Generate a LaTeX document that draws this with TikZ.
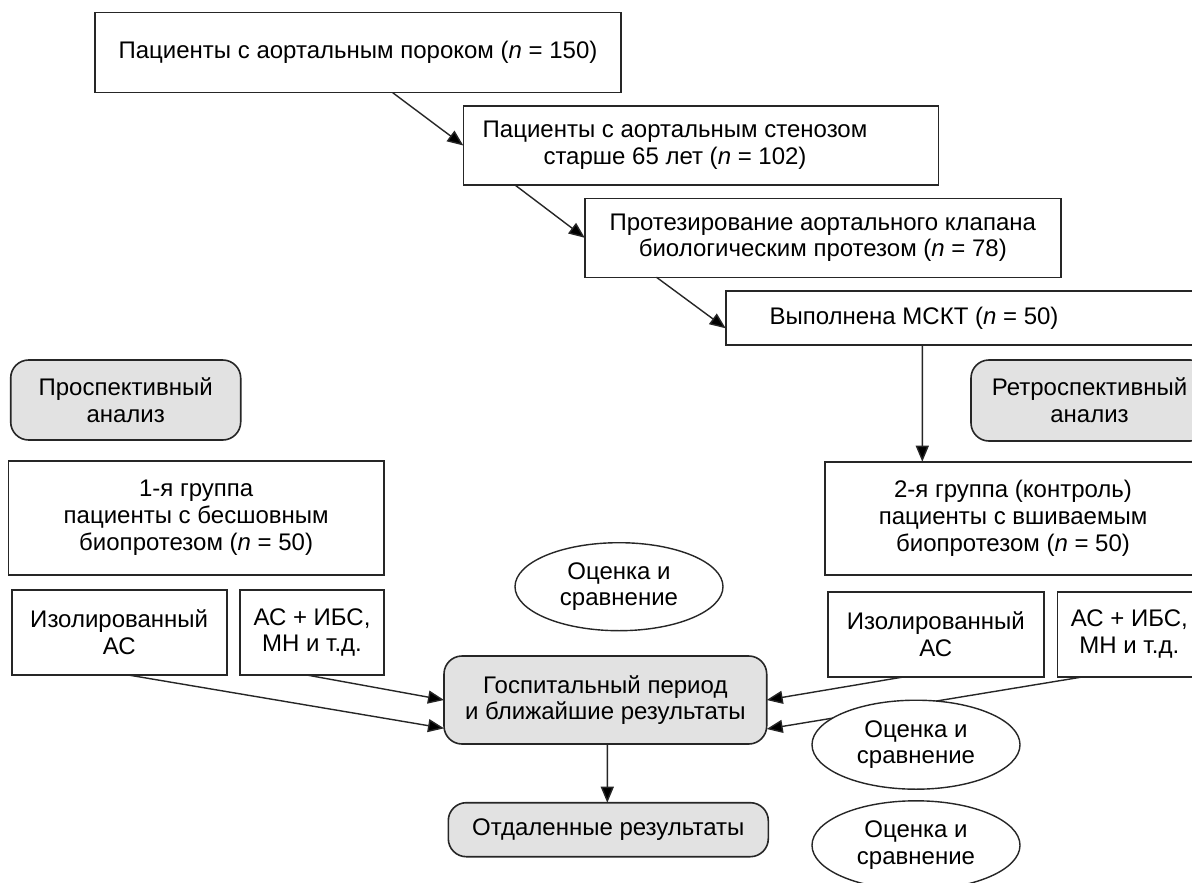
\documentclass[tikz,border=0pt]{standalone}
\usepackage{fontspec}
\setmainfont{Liberation Sans}
\usetikzlibrary{arrows.meta,shapes.geometric,calc}
\definecolor{linec}{HTML}{262626}
\definecolor{boxgray}{HTML}{E2E2E2}
\begin{document}
\begin{tikzpicture}[x=1pt,y=-1pt,
  every node/.style={font=\fontsize{24}{26.7}\selectfont, align=center, inner sep=0pt, outer sep=0pt},
  sz/.style 2 args={minimum width=#1pt, minimum height=#2pt},
  box/.style={draw=linec, line width=1.6pt, fill=white, rectangle},
  rbox/.style={box, fill=boxgray, rounded corners=18pt},
  ell/.style={draw=linec, line width=1.4pt, fill=white, ellipse},
  arr/.style={draw=linec, line width=1.4pt, -{Triangle[length=16pt,width=13pt,fill=black]}},
]
\useasboundingbox (0,0) rectangle (1192,883);
\clip (0,0) rectangle (1192,883);
\fill[white] (0,0) rectangle (1192,883);

% top chain
\node[box, sz={526}{80}] (b1) at (358,52.7) {Пациенты с аортальным пороком (\textit{n} = 150)};
\node[box, sz={475}{79}] (b2) at (700.8,145.5) {};
\node (b2t) at (675,145.5) {Пациенты с аортальным стенозом\\старше 65 лет (\textit{n} = 102)};
\node[box, sz={476}{79}] (b3) at (822.8,237.8) {Протезирование аортального клапана\\биологическим протезом (\textit{n} = 78)};
\node[box, sz={489.3}{54}] (b4) at (970.35,318) {};
\node (b4t) at (914,318) {Выполнена МСКТ (\textit{n} = 50)};

% analysis labels
\node[rbox, sz={230}{80}] (pro) at (125.7,400) {Проспективный\\анализ};
\node[rbox, sz={237}{81}] (retro) at (1089.5,400.5) {Ретроспективный\\анализ};

% groups
\node[box, sz={375.7}{114.3}] (g1) at (196.15,517.85) {1-я группа\\пациенты с бесшовным\\биопротезом (\textit{n} = 50)};
\node[box, sz={376}{113.3}] (g2) at (1013,518.35) {2-я группа (контроль)\\пациенты с вшиваемым\\биопротезом (\textit{n} = 50)};

% subgroups
\node[box, sz={215}{85}] (isoL) at (119.2,632.5) {Изолированный\\АС};
\node[box, sz={144}{85}] (acL) at (312,632.5) {АС + ИБС,\\МН и т.д.};
\node[box, sz={216.3}{85}] (isoR) at (935.85,634.2) {Изолированный\\АС};
\node[box, sz={144}{85}] (acR) at (1129.3,634.2) {АС + ИБС,\\МН и т.д.};

% results
\node[rbox, sz={322.7}{88}] (hosp) at (605.35,700) {Госпитальный период\\и ближайшие результаты};
\node[rbox, sz={320}{54}] (remote) at (608.3,829.7) {Отдаленные результаты};

% connectors
\draw[arr] ([xshift=297.7pt]b1.south west) -- (b2.west);
\draw[arr] ([xshift=51.7pt]b2.south west) -- (b3.west);
\draw[arr] ([xshift=71.7pt]b3.south west) -- ([yshift=16.7pt]b4.south west);
\draw[arr] ([xshift=196.6pt]b4.south west) -- ([xshift=97.3pt]g2.north west);
\draw[arr] ([xshift=116.6pt]isoL.south west) -- ([yshift=15.7pt]hosp.south west);
\draw[arr] ([xshift=66.7pt]acL.south west) -- (hosp.west);
\draw[arr] ([xshift=77.3pt]isoR.south west) -- (hosp.east);
\draw[arr] ([xshift=26.7pt]acR.south west) -- ([yshift=15pt]hosp.south east);
\draw[arr] ([xshift=163.3pt]hosp.south west) -- ([xshift=159pt]remote.north west);

% ellipses
\node[ell, sz={208}{88}] (e1) at (619,586.7) {Оценка и\\сравнение};
\node[ell, sz={208}{89}] (e2) at (916,744.7) {Оценка и\\сравнение};
\node[ell, sz={208}{89}] (e3) at (916,845.3) {Оценка и\\сравнение};
\end{tikzpicture}
\end{document}
